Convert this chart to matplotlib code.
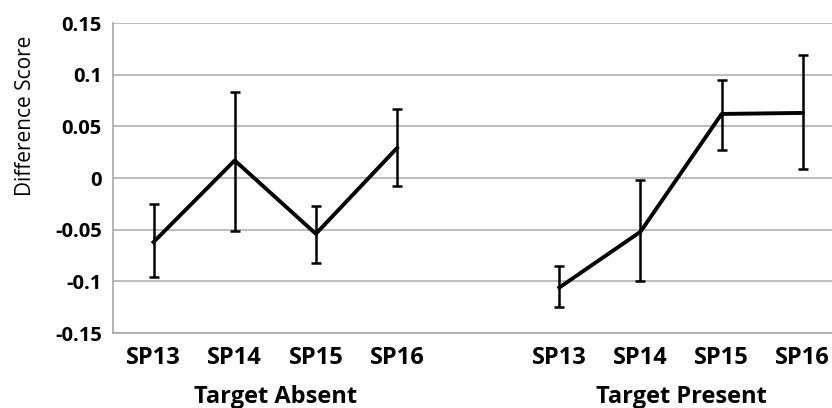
import matplotlib.pyplot as plt
import matplotlib.transforms as mtransforms
import numpy as np

plt.rcParams['font.family'] = ['Open Sans', 'DejaVu Sans']

labels = ["SP13", "SP14", "SP15", "SP16"]
groups = ["Target Absent", "Target Present"]

absent_mean = [-0.062, 0.017, -0.054, 0.029]
absent_high = [-0.025, 0.083, -0.027, 0.067]
absent_low = [-0.096, -0.051, -0.082, -0.008]

present_mean = [-0.106, -0.052, 0.062, 0.063]
present_high = [-0.085, -0.002, 0.095, 0.119]
present_low = [-0.125, -0.100, 0.027, 0.009]

fig = plt.figure(figsize=(8.32, 4.08), dpi=100)
ax = fig.add_axes([0.1358, 0.1838, 0.8642, 0.7598])

pos_absent = np.arange(4)
pos_present = np.arange(4) + 5

for pos, m, hi, lo in [(pos_absent, absent_mean, absent_high, absent_low),
                       (pos_present, present_mean, present_high, present_low)]:
    m = np.array(m)
    yerr = [m - np.array(lo), np.array(hi) - m]
    ax.errorbar(pos, m, yerr=yerr, color="black", lw=2.8, elinewidth=1.8,
                capsize=3.5, capthick=1.8, zorder=3)

ax.set_ylim(-0.15, 0.15)
ax.set_xlim(-0.5, 8.36)
ax.set_yticks([-0.15, -0.1, -0.05, 0, 0.05, 0.1, 0.15])
ax.set_yticklabels(["-0.15", "-0.1", "-0.05", "0", "0.05", "0.1", "0.15"],
                   fontsize=14.5, fontweight="bold")
ax.set_xticks(list(pos_absent) + list(pos_present))
ax.set_xticklabels(labels * 2, fontsize=17, fontweight="bold")
ax.tick_params(length=0)
ax.tick_params(axis="x", pad=9)
ax.tick_params(axis="y", pad=8)

ax.grid(axis="y", color="#b0b0b0", lw=1.2)
ax.set_axisbelow(True)
for s in ["top", "right"]:
    ax.spines[s].set_visible(False)
for s in ["left", "bottom"]:
    ax.spines[s].set_color("#a8a8a8")
    ax.spines[s].set_linewidth(1.2)

ax.set_ylabel("Difference Score", fontsize=15, va="center")
ax.yaxis.set_label_coords(-0.121, 0.70)

# group names sit under the category labels, near the bottom edge
trans = mtransforms.blended_transform_factory(ax.transData, fig.transFigure)
for x, g in zip([1.5, 6.5], groups):
    ax.text(x, 0.012, g, transform=trans, ha="center", va="baseline",
            fontsize=17, fontweight="bold")

fig.savefig("out.png", dpi=100)
